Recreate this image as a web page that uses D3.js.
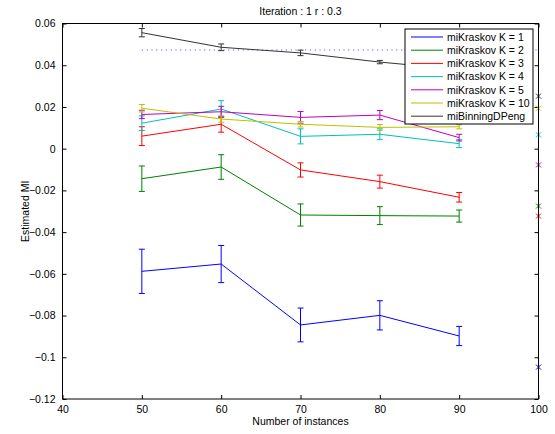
<!DOCTYPE html>
<html>
<head>
<meta charset="utf-8">
<script src="https://cdn.jsdelivr.net/npm/d3@7"></script>
<style>
  html, body { margin: 0; padding: 0; background: #fff; }
  svg { display: block; font-family: "Liberation Sans", Arial, Helvetica, sans-serif; }
</style>
</head>
<body>
<svg id="chart" width="555" height="434"></svg>
<script>
// Sample sizes along the x axis
const instances = [50, 60, 70, 80, 90];

// Mean estimated MI per estimator
const k1Mean  = [-0.0588, -0.0553, -0.0845, -0.0799, -0.0898];
const k2Mean  = [-0.0144, -0.0088, -0.0318, -0.0321, -0.0323];
const k3Mean  = [0.0060, 0.0117, -0.0102, -0.0158, -0.0233];
const k4Mean  = [0.0122, 0.0190, 0.0059, 0.0069, 0.0024];
const k5Mean  = [0.0164, 0.0177, 0.0150, 0.0161, 0.0053];
const k10Mean = [0.0194, 0.0142, 0.0117, 0.0102, 0.0105];
const pengMean = [0.0556, 0.0486, 0.0459, 0.0415, 0.0380];

// Error bar half-widths
const k1Err  = [0.0106, 0.0089, 0.0081, 0.0070, 0.0046];
const k2Err  = [0.0061, 0.0059, 0.0053, 0.0043, 0.0029];
const k3Err  = [0.0045, 0.0038, 0.0034, 0.0031, 0.0023];
const k4Err  = [0.0035, 0.0040, 0.0036, 0.0026, 0.0019];
const k5Err  = [0.0020, 0.0026, 0.0028, 0.0022, 0.0016];
const k10Err = [0.0018, 0.0015, 0.0013, 0.0014, 0.0010];
const pengErr = [0.0020, 0.0016, 0.0013, 0.0008, 0.0010];

// Estimates on the full sample (x = 100)
const fullX = 100;
const fullValues = [-0.1047, -0.0275, -0.0323, 0.0066, -0.0078, 0.0194, 0.0252];

// Reference MI level (dotted line)
const trueMI = 0.0473;
const trueFrom = 50, trueTo = 100;

const seriesNames = ["miKraskov K = 1", "miKraskov K = 2", "miKraskov K = 3",
  "miKraskov K = 4", "miKraskov K = 5", "miKraskov K = 10", "miBinningDPeng"];
const seriesColors = ["#0000ff", "#008000", "#ff0000", "#00bfbf", "#bf00bf", "#bfbf00", "#333333"];
const means = [k1Mean, k2Mean, k3Mean, k4Mean, k5Mean, k10Mean, pengMean];
const errs = [k1Err, k2Err, k3Err, k4Err, k5Err, k10Err, pengErr];

const xTicks = [40, 50, 60, 70, 80, 90, 100];
const yTicks = [0.06, 0.04, 0.02, 0, -0.02, -0.04, -0.06, -0.08, -0.1, -0.12];

const svg = d3.select("#chart");
const L = 62.5, R = 538.5, T = 23.5, B = 399;

const x = d3.scaleLinear().domain([40, 100]).range([L, R]);
const y = d3.scaleLinear().domain([-0.12, 0.06]).range([B, T]);

const fmtY = v => (v === 0 ? "0" : d3.format("")(+v.toFixed(2))).replace("-", "\u2212");

// Axes (inward ticks, mirrored on top/right)
const tickLen = 4;
svg.append("g").attr("transform", `translate(0,${B})`)
  .call(d3.axisBottom(x).tickValues(xTicks).tickSizeInner(-tickLen).tickSizeOuter(0).tickPadding(7))
  .call(g => g.select(".domain").remove());
svg.append("g").attr("transform", `translate(0,${T})`)
  .call(d3.axisTop(x).tickValues(xTicks).tickSizeInner(-tickLen).tickSizeOuter(0).tickFormat(""))
  .call(g => g.select(".domain").remove());
svg.append("g").attr("transform", `translate(${L},0)`)
  .call(d3.axisLeft(y).tickValues(yTicks).tickSizeInner(-tickLen).tickSizeOuter(0).tickPadding(7).tickFormat(fmtY))
  .call(g => g.select(".domain").remove());
svg.append("g").attr("transform", `translate(${R},0)`)
  .call(d3.axisRight(y).tickValues(yTicks).tickSizeInner(-tickLen).tickSizeOuter(0).tickFormat(""))
  .call(g => g.select(".domain").remove());

svg.selectAll(".tick line").attr("stroke", "#000");
svg.selectAll(".tick text").attr("fill", "#000").attr("font-size", "10.5px")
  .attr("font-family", "'Liberation Sans', Arial, sans-serif");

// Reference dotted line
svg.append("line")
  .attr("x1", x(trueFrom)).attr("x2", x(trueTo))
  .attr("y1", y(trueMI)).attr("y2", y(trueMI))
  .attr("stroke", "#4444ff").attr("stroke-width", 1)
  .attr("stroke-dasharray", "1.2,3.6").attr("opacity", 0.85);

// Series lines with error bars
const line = d3.line().x(d => x(d[0])).y(d => y(d[1]));
const cap = 3;
means.forEach((m, i) => {
  const g = svg.append("g");
  const pts = instances.map((xv, j) => [xv, m[j], errs[i][j]]);
  g.append("path").datum(pts).attr("d", line)
    .attr("fill", "none").attr("stroke", seriesColors[i]).attr("stroke-width", 1);
  const eb = g.selectAll(".eb").data(pts).enter().append("g")
    .attr("stroke", seriesColors[i]).attr("stroke-width", 1);
  eb.append("line").attr("x1", d => x(d[0])).attr("x2", d => x(d[0]))
    .attr("y1", d => y(d[1] - d[2])).attr("y2", d => y(d[1] + d[2]));
  eb.append("line").attr("x1", d => x(d[0]) - cap).attr("x2", d => x(d[0]) + cap)
    .attr("y1", d => y(d[1] - d[2])).attr("y2", d => y(d[1] - d[2]));
  eb.append("line").attr("x1", d => x(d[0]) - cap).attr("x2", d => x(d[0]) + cap)
    .attr("y1", d => y(d[1] + d[2])).attr("y2", d => y(d[1] + d[2]));
});

// Full-sample estimates as 'x' markers
const mk = 2.5;
fullValues.forEach((v, i) => {
  const cx = x(fullX), cy = y(v);
  const g = svg.append("g").attr("stroke", seriesColors[i]).attr("stroke-width", 1);
  g.append("line").attr("x1", cx - mk).attr("y1", cy - mk).attr("x2", cx + mk).attr("y2", cy + mk);
  g.append("line").attr("x1", cx - mk).attr("y1", cy + mk).attr("x2", cx + mk).attr("y2", cy - mk);
});

// Plot box
svg.append("rect").attr("x", L).attr("y", T).attr("width", R - L).attr("height", B - T)
  .attr("fill", "none").attr("stroke", "#000").attr("stroke-width", 1);

// Title and axis labels
svg.append("text").attr("x", (L + R) / 2).attr("y", 15).attr("text-anchor", "middle")
  .attr("font-size", "10.5px").text("Iteration : 1 r : 0.3");
svg.append("text").attr("x", (L + R) / 2).attr("y", 425).attr("text-anchor", "middle")
  .attr("font-size", "10.5px").text("Number of instances");
svg.append("text").attr("transform", `translate(29,${(T + B) / 2}) rotate(-90)`)
  .attr("text-anchor", "middle").attr("font-size", "10.5px").text("Estimated MI");

// Legend
const lg = svg.append("g").attr("transform", "translate(405,29)");
lg.append("rect").attr("width", 128).attr("height", 95)
  .attr("fill", "#fff").attr("stroke", "#000").attr("stroke-width", 1);
seriesNames.forEach((name, i) => {
  const yy = 8 + i * 13.2;
  lg.append("line").attr("x1", 6).attr("x2", 38).attr("y1", yy).attr("y2", yy)
    .attr("stroke", seriesColors[i]).attr("stroke-width", 1);
  lg.append("text").attr("x", 42).attr("y", yy + 3.8).attr("font-size", "10.5px").text(name);
});
</script>
</body>
</html>
